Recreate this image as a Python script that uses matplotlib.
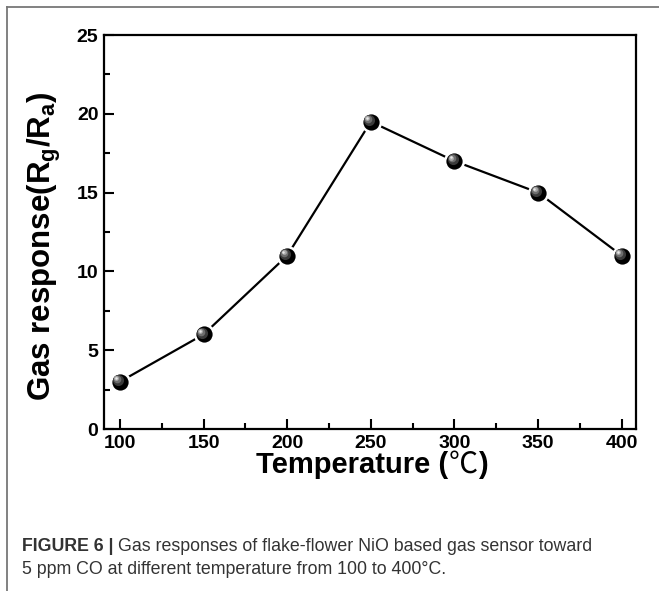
import matplotlib
matplotlib.use("Agg")
import matplotlib.pyplot as plt
import matplotlib.transforms as mtransforms
from matplotlib.lines import Line2D

temperature = [100, 150, 200, 250, 300, 350, 400]
response = [3.0, 6.0, 11.0, 19.5, 17.0, 15.0, 11.0]
x_ticks = [100, 150, 200, 250, 300, 350, 400]
y_ticks = [0, 5, 10, 15, 20, 25]

plt.rcParams['font.family'] = ['Liberation Sans', 'DejaVu Sans']
plt.rcParams['mathtext.fontset'] = 'custom'
plt.rcParams['mathtext.rm'] = 'Liberation Sans'
plt.rcParams['mathtext.bf'] = 'Liberation Sans:bold'

W, H = 659, 591
fig = plt.figure(figsize=(W / 100, H / 100), dpi=100)
L, R, T, B = 104, 636, 35, 429
ax = fig.add_axes([L / W, 1 - B / H, (R - L) / W, (B - T) / H])

ax.plot(temperature, response, color='black', lw=1.6, zorder=2)
ax.plot(temperature, response, 'o', ms=13.5, mfc='black', mec='white', mew=1.8, zorder=3)
shades = [(8.0, -1.3, 1.3, '#3a3a3a'), (5.5, -2.0, 2.0, '#6e6e6e'), (3.5, -2.5, 2.5, '#a8a8a8'), (1.8, -2.8, 2.8, '#e8e8e8')]
for ms, dx, dy, c in shades:
    tr = mtransforms.offset_copy(ax.transData, fig=fig, x=dx, y=dy, units='points')
    ax.plot(temperature, response, 'o', ms=ms, mfc=c, mec='none', transform=tr, zorder=4)

ax.set_xlim(90.5, 408.5)
ax.set_ylim(0, 25)
ax.set_xticks(x_ticks)
ax.set_yticks(y_ticks)
ax.set_xticks([125, 175, 225, 275, 325, 375], minor=True)
ax.set_yticks([2.5, 7.5, 12.5, 17.5, 22.5], minor=True)
ax.tick_params(which='both', direction='in', width=1.5, top=False, right=False)
ax.tick_params(which='major', length=7, labelsize=14, pad=4)
ax.tick_params(which='minor', length=4)
for lab in ax.get_xticklabels() + ax.get_yticklabels():
    lab.set_fontweight('bold')
for s in ax.spines.values():
    s.set_linewidth(1.6)

ax.set_ylabel(r'Gas response(R$_{\mathbf{g}}$/R$_{\mathbf{a}}$)', fontsize=22.5, fontweight='bold')
ax.yaxis.set_label_coords(-(L - 63) / (R - L), (B - 246) / (B - T))

fig.canvas.draw()
renderer = fig.canvas.get_renderer()


def place_run(pieces, x0, y, ha_center=False):
    """pieces: list of (text, kwargs). Placed consecutively along a baseline at figure px y (from top)."""
    arts = []
    for txt, kw in pieces:
        a = fig.text(0, 1 - y / H, txt, va='baseline', ha='left', **kw)
        arts.append(a)
    widths = []
    for a in arts:
        bb = a.get_window_extent(renderer)
        widths.append(bb.width)
    total = sum(widths)
    x = x0 - total / 2 if ha_center else x0
    for a, w in zip(arts, widths):
        a.set_x(x / W)
        x += w
    return arts


# x label: Temperature (℃)
place_run([('Temperature (', dict(fontsize=21, fontweight='bold')),
           ('℃', dict(fontsize=21, family=['Noto Sans CJK SC', 'DejaVu Sans'])),
           (')', dict(fontsize=21, fontweight='bold'))], (L + R) / 2 + 2, 473, ha_center=True)

# figure frame
fig.add_artist(Line2D([7 / W, 1.0], [1 - 7 / H, 1 - 7 / H], color='#777777', lw=1.3, transform=fig.transFigure))
fig.add_artist(Line2D([7 / W, 7 / W], [1 - 7 / H, 0.0], color='#777777', lw=1.3, transform=fig.transFigure))

cap = dict(fontsize=12.8, color='#333333')
place_run([('FIGURE 6 | ', dict(fontweight='bold', **cap)),
           ('Gas responses of flake-flower NiO based gas sensor toward', cap)], 22, 551)
place_run([('5 ppm CO at different temperature from 100 to 400°C.', cap)], 22, 574)

fig.savefig('out.png', dpi=100)
